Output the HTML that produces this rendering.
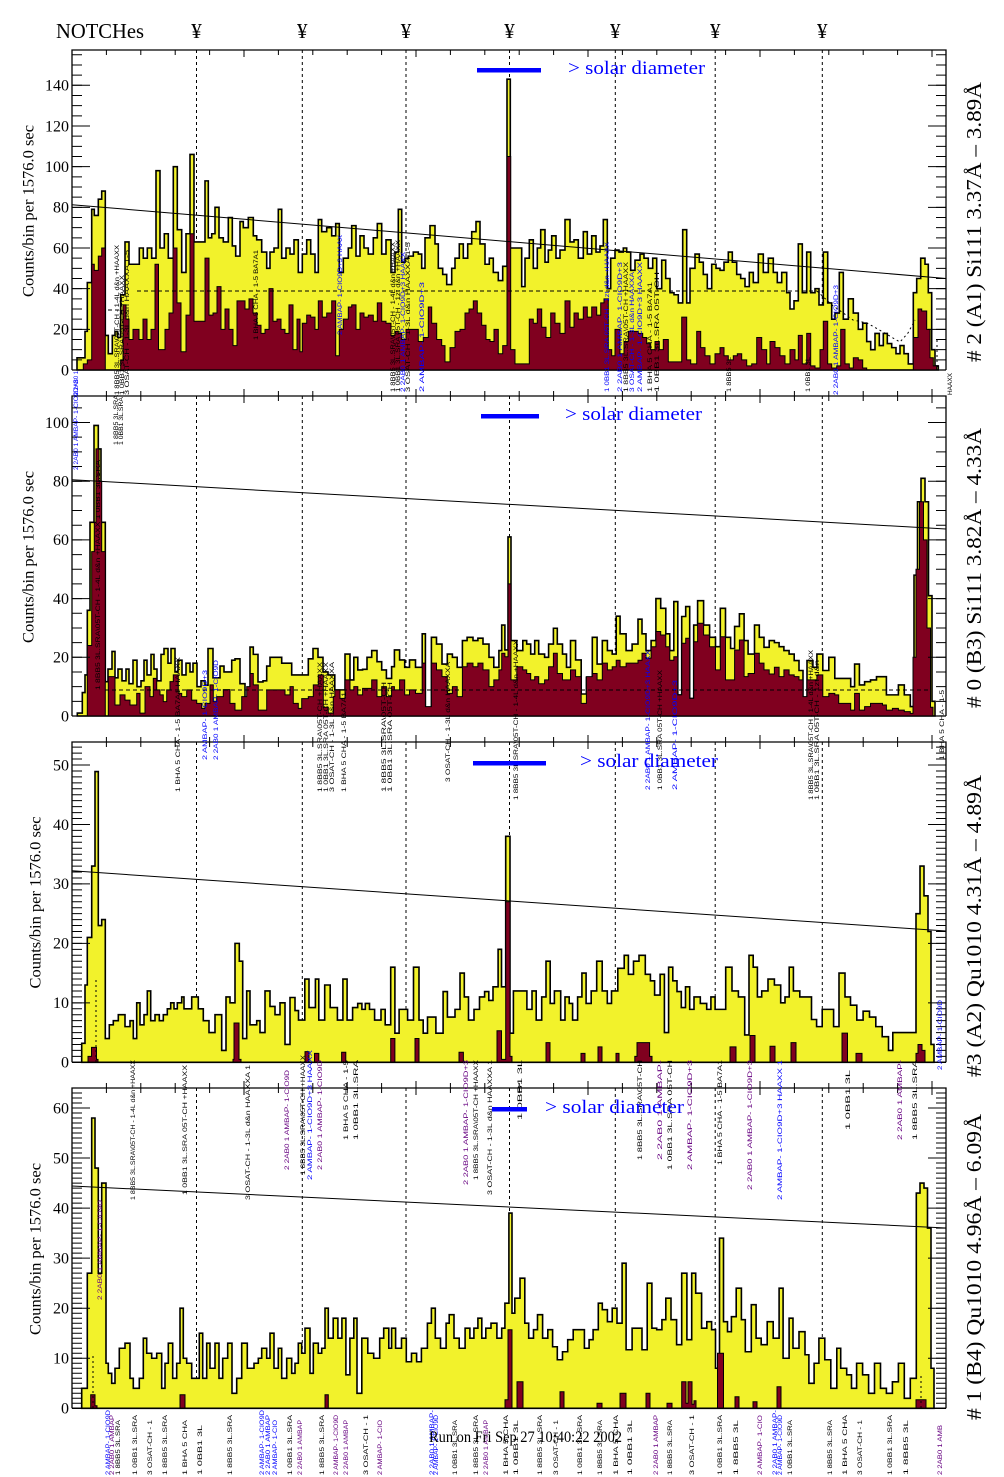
<!DOCTYPE html>
<html><head><meta charset="utf-8"><style>
html,body{margin:0;padding:0;background:#fff}
svg{display:block}
.y{fill:#f2f22b;stroke:#000;stroke-width:1.6;vector-effect:non-scaling-stroke;stroke-linejoin:miter}
.r{fill:#80001f;stroke:#000;stroke-width:1;vector-effect:non-scaling-stroke}
.ax{fill:none;stroke:#000;stroke-width:1.3}
.tk{stroke:#000;fill:none}
.nd{stroke:#000;stroke-width:1;stroke-dasharray:3 3;fill:none}
.sl{stroke:#000;stroke-width:1;fill:none}
.lab{font-family:"Liberation Serif",serif;font-size:16px;fill:#000}
.ttl{font-family:"Liberation Serif",serif;font-size:21px;fill:#000}
.sd{font-family:"Liberation Serif",serif;font-size:19px;fill:#0000ff}
.a,.b,.p{font-family:"Liberation Sans",sans-serif;font-size:6px}
.a{fill:#000}.b{fill:#0000ff}.p{fill:#660080}
</style></head><body>
<svg width="1004" height="1477" viewBox="0 0 1004 1477" xmlns="http://www.w3.org/2000/svg">
<rect width="1004" height="1477" fill="#fff"/>

<!-- header -->
<text class="ttl" x="56" y="38" font-size="20" textLength="88" lengthAdjust="spacingAndGlyphs">NOTCHes</text>
<g class="ttl" text-anchor="middle" font-size="20">
<text x="196.5" y="38">¥</text><text x="302.3" y="38">¥</text><text x="406" y="38">¥</text><text x="509.5" y="38">¥</text><text x="615.3" y="38">¥</text><text x="715.2" y="38">¥</text><text x="822.3" y="38">¥</text>
</g>

<!-- notch dashed lines -->
<g class="nd">
<path d="M196.5,50V370M302.3,50V370M406,50V370M509.5,50V370M615.3,50V370M715.2,50V370M822.3,50V370"/>
<path d="M196.5,396V716M302.3,396V716M406,396V716M509.5,396V716M615.3,396V716M715.2,396V716M822.3,396V716"/>
<path d="M196.5,742V1062M302.3,742V1062M406,742V1062M509.5,742V1062M615.3,742V1062M715.2,742V1062M822.3,742V1062"/>
<path d="M196.5,1088V1408M302.3,1088V1408M406,1088V1408M509.5,1088V1408M615.3,1088V1408M715.2,1088V1408M822.3,1088V1408"/>
</g>

<!-- PANEL 1 -->
<g transform="translate(0,370) scale(1,-2.0335)">
<path class="y" vector-effect="non-scaling-stroke" d="M77,0V6H85V19H87.3V43H91.7V79H94.3V76H98.3V84H101.7V88H105.3V17H108.3V8H112.3V17H115V19H117.7V16H120.7V37H125V63H129V52H139.3V60H143.3V55H147.3V60H151.7V55H156V98H160V60H164.3V67H168.3V55H173.3V100H177.3V69H181.7V48H186V67H190V106H194V63H205V93H208.3V65H211.7V67H215V80H219V65H223.3V63H228.3V75H232.3V61H235.7V56H240V73H243.3V70H248.3V75H253.3V66H256.7V64H261.7V58H266.7V50H270V58H274V60H278.3V79H281.7V55H286V60H290V57H294V64H298.3V48H302.3V57H306.7V64H310.7V57H315V48H318.3V74H321.7V68H326.7V70H331.7V66H335.7V72H339.3V48H343.3V55H348.3V60H351.7V71H356V56H360V66H364V60H368.3V57H373.3V65H377.3V72H381.7V57H386V64H391V48H395V58H398.3V79H401.7V53H405V55H408.3V56H413.3V58H418.3V57H421.7V50H425V65H430V71H435V62H438.3V50H442.7V47H446.7V42H451.7V50H455V55H459.3V62H463.3V55H467.7V62H471.7V68H476V73H480V62H485V52H489.3V55H493.3V48H498.3V44H502.7V51H507V143H510.3V60H521.7V41H525V55H529.3V64H533.3V50H537.3V60H540.7V69H545V53H548.3V59H551.7V66H556V55H560V59H565V74H570V63H574V64H578.3V55H583.3V68H587.3V57H591.7V66H596V58H600V61H603.3V74H607.3V40H610.7V55H615V59H619V58H623.3V60H626.7V58H630.7V49H635V54H640V57H644V55H648.3V50H652.7V55H656.7V40H661.7V54H665.7V45H670V38H674V37H678.3V33H682.7V69H686.7V33H690V50H695V57H699.3V53H703.3V47H707.3V40H711.7V52H716V50H720V49H724V53H728.3V58H732.3V53H736.7V47H740.7V45H745V41H749.3V48H753.3V43H758.3V57H763.3V48H768.3V55H773.3V48H777.3V43H781.7V48H786.7V38H790V30H794V34H798.3V62H802.3V38H806.7V58H810.7V38H815V40H819V32H823.3V58H827.7V33H831.7V25H835V28H839.3V48H843.3V25H848.3V35H853.3V28H858.3V20H862.7V23H866.7V14H870.7V10H875V18H879.3V12H883.3V18H887.3V13H891.7V11H896V8H900V12H904V8H908.3V3H913.3V38H916.7V45H920.7V55H925V52H928.3V38H931.7V10H935V2H938.3V0Z"/>
<path class="r" vector-effect="non-scaling-stroke" d="M83.3,0V3H87.3V5H91.7V52H94.3V49H98.3V56H101.7V60H105.3V0H120.7V5H123V32H126V25H129V15H133V20H139V15H143V25H147V15H151V20H155V52H158.5V10H165V20H169V28H173V60H177V33H181V9H186V27H190V67H194V24H205V55H209V27H213V28H217V41H221V20H225V30H229V20H233V12H237V34H245V30H249V35H253V28H257V22H261V18H265V20H269V40H273V24H277V25H281V20H285V18H289V32H293V10H297V25H300V9H302.3V23H306.7V27H310.7V26H315V20H318.3V34H322.3V26H326.7V28H331.7V34H335.7V7H339.3V20H343.3V25H348.3V31H351.7V32H356V20H360V28H364V26H368.3V27H373.3V24H377.3V33H381.7V24H386V23H391V17H395V19H398.3V18H401.7V15H406V20H418.3V14H423.3V16H428.3V31H431.7V23H436.7V15H441.7V12H445V4H450V11H455V19H460V20H465V28H469V30H473.3V34H477.3V28H481.7V22H486V15H490V14H494V20H498.3V8H502.7V12H507V105H510.7V10H515V3H529.3V25H533.3V23H537.3V30H541.7V21H546V16H550.7V28H555V23H560V18H565V34H570V21H574V28H578.3V25H583.3V31H587.3V26H591.7V31H596.7V27H600.7V33H604V35H608.3V10H611.7V7H615V20H620V8H624V14H628.3V19H638.3V18H642.7V16H646.7V13H650.7V10H655V14H659.3V10H663.3V15H668.3V4H681.7V26H686.7V5H690.7V3H696.7V19H700.7V11H705V7H710V3H715V8H720V11H724V7H728.3V5H733.3V7H737.3V8H741.7V5H746.7V2H751.7V3H756.7V16H761.7V10H766.7V3H770V14H775V11H780V7H785V3H790V10H795V5H798.3V17H802.3V3H806.7V18H810.7V2H815V1H820V10H823.3V24H827.7V3H831.7V1H836.7V2H840.7V20H845V3H849.3V1H853.3V6H858.3V5H862.7V1H866.7V0H913.3V16H918V30H921.7V29H926.7V20H930V6H933.3V2H936.7V0Z"/>
</g>

<!-- PANEL 2 -->
<g transform="translate(0,716) scale(1,-2.935)">
<path class="y" vector-effect="non-scaling-stroke" d="M77.3,0V1H82.3V8H85V14H87.3V36H90V66H94V99H98.3V91H101V66H105.3V11.7H108V16H112V22H115V13H118V16H122V12H126V16H129V11H133V19H137V10H141V12H144V19H147V14H151V21H154V16H157V12H161V21H164V23H168V18H171V23H175V15H178V19H182V14H186V18H190V15H193V18H197V10H201V12H205V10.5H208V23H213V13H220V17H224V15H231.7V19H235V19.5H240V11H245V5H250V23.5H253.3V21H258V11.6H263V12H266.7V17H270V20H281.7V18H291.7V14H301.7V14H308.3V19.5H313V23H318V20H323V15H328V14H334.8V8.9H345V21.1H350V12.3H353.8V20H357.8V15.7H362.6V15.9H367V20H371.7V22.3H377V18.5H381.7V15.7H386.4V12.8H391.6V16.8H394.4V22.5H399.6V19.1H404.7V16.6H409.5V19.1H415.5V16.6H422.2V28H425.4V3H431.4V26.8H436.5V24.5H442V17.7H447.3V21.1H452.4V20H457.2V16.6H462.4V25.7H467.1V26.8H473V25.7H477.9V26.5H483V24.5H489V20H493.8V16.6H498.9V22.3H501.7V31H504.9V22.5H508V61H511V25.7H516.8V22.3H522.8V25.7H526.7V24.5H530.7V21.1H534.7V25.7H538.7V21.1H544.6V20H548.6V24.5H553.4V29.9H557.3V24.5H562.5V21.1H566.5V16.6H570.5V25.7H575.6V19.1H581.2V7.5H586.4V13.2H592.3V26.8H597.1V17.7H602.3V25.7H607.4V22.3H612.2V21.1H616.2V34H620.1V28H626.1V22.3H632.1V24.5H638V33H642V28H646V22.3H651.1V25.7H655.9V40H660.7V36.7H665.8V28H669.8V22.3H673.8V39H677.8V7.2H681.7V33.9H685.7V37.3H689.7V6H693.7V31H697.6V39.3H703.6V31H709.6V26.8H715.5V23.6H720.3V36.7H725.5V26.8H730.6V23H734.6V30.5H739.4V34.8H744.1V25.7H748.1V21.1H754.5V31H759.3V26.8H764V23.4H769.2V25.7H774.4V25H779.1V23.6H783.9V22.3H789.1V21.1H794.2V18.9H799V15.5H803V6.4H807V18.9H812.9V16.6H816.9V21.1H822.8V15.5H828.8V20H834.8V12.8H850.7V10H854.6V17.7H859.4V10.6H864.6V11.7H870.5V12.3H876.5V13.4H886.4V7.2H898.4V10.6H904.3V7.2H910.3V3.2H914V48H917.5V73H921V81H925V73H928.5V41H932V5H935V0Z"/>
<path class="r" vector-effect="non-scaling-stroke" d="M85,0H87.3V24H91.7V56H94.3V66H96V91H99V80H101.7V56H105.3V0H108.3V13.4H115V3.75H120V7.2H125V5.4H130V3.75H136.7V7.7H140V1H145V10H150V6.6H153.3V12.8H156.7V8.9H160V7.2H163.3V4.9H166.7V8.9H170V11.7H173.3V14H178.3V7.7H181.7V6.6H186.7V8.9H191.7V5.4H196.7V4.3H201.7V2.6H205V4.3H210V10.6H213.3V4.9H216.7V6.6H223.3V9H230V4.3H235V2H241.7V6.6H246.7V10H250V14.5H253.3V10.6H258.3V2H266.7V8.9H285V7.2H290V10H293.3V4.3H298.3V2.6H301.7V5.9H308.3V6.6H313.3V10.6H318.3V14H323.3V3H328.3V1H333.3V6.6H334.8V8.9H340V6H345V12.3H350V8.9H353.8V10H357.8V7.2H362.6V9.4H371.7V12.3H377V6.6H381.7V10H386.4V6.6H391.6V10H394.4V8.9H399.6V12.3H404.7V7.2H409.5V8.9H415.5V7.7H422.2V18H425.4V3.2H431.4V18H436.5V15.7H442V13.4H447.3V7.7H452.4V10H457.2V6.6H462.4V16.8H467.1V18H473V16.8H477.9V18H483V15.7H489V10H493.8V12.3H498.9V15.7H501.7V21.4H504.9V20.2H508V45H511V12.3H516.8V16.8H522.8V15.7H526.7V14.5H530.7V12.3H534.7V13.4H538.7V11H544.6V12.3H548.6V16.8H553.4V21.4H557.3V14.5H562.5V12.3H570.5V15.7H575.6V13.4H581.2V4.3H586.4V13.4H592.3V14.5H597.1V12.3H602.3V18H607.4V15.7H612.2V16.8H616.2V19H620.1V16.8H626.1V18H638V19H642V21.4H646V19.7H651.1V23.6H655.9V28.8H660.7V27.6H665.8V23.6H669.8V19H673.8V20.2H677.8V7.2H681.7V24.8H685.7V26.5H689.7V6H693.7V25.3H697.6V31.6H703.6V27.6H709.6V23.6H715.5V15.7H720.3V27H725.5V12.3H734.6V22.5H739.4V25.9H744.1V13.4H748.1V14.5H754.5V21.4H759.3V18H764V15.7H769.2V14.3H774.4V16.6H779.1V13.4H783.9V15.7H789.1V14H794.2V13.4H799V12.3H803V6.6H807V12.3H816.9V14H822.8V6.6H828.8V7.7H834.8V7.2H838.7V4.3H850.7V2H854.6V7.7H859.4V2H864.6V3.2H870.5V4.3H882.5V3.75H886.4V2H892.4V2.6H898.4V2H904.3V1.5H910.3V0.9H913V20H916V50H919.5V73H923.5V60H927V30H930.5V3H933V0Z"/>
</g>

<!-- PANEL 3 -->
<g transform="translate(0,1062.3) scale(1,-5.946)">
<path class="y" vector-effect="non-scaling-stroke" d="M81.7,0V3.2H85V13H87.3V21H91.7V33H95V48.9H98.3V23H101.7V24H105.3V4H109.3V6.3H113.3V7H118.3V8H125V6H130V7H133.3V4H136.7V10H140V6.3H144V8H147.3V12H150.7V7H155V8H159.3V7H163.3V8H167.3V9H170.7V10H174V9H177.3V10H181.7V11H184V9H191.7V11H198.3V9H203.3V7H209V5H215V8H221.7V2H226V11H230V10H235V20H239.3V17H242.7V4H246.7V12H250V6.3H256.7V7H260V5H265V12H270V9.4H275V8H280V10H285V3H290V10.9H295V8.7H298.5V7.1H304.8V14H309V9.2H315.4V14H318.8V7.1H324.7V13H330.2V9.2H337.4V7.1H342.9V14H347.1V7.1H352.6V9.2H357.7V9.9H361.9V8.9H365.3V9.9H369.5V8.9H374.6V7.1H381V8.9H385.2V6.3H390.7V16H394.9V4.9H399.1V8.9H407.6V7.1H413.5V16H419V7.1H423.2V4.9H427.5V7.6H435.9V4.9H443.1V11.9H447.4V7.6H455V8.9H460V15H464.3V11H468.5V7.1H474V8.9H479.5V11H484.6V11.9H488.8V10.4H493V12.7H498.1V19H501.5V12.7H505.7V38H510V4.9H513.4V12H526.9V8.9H532V12H536.2V7.1H541.7V11H546V17H550.2V9.9H554.4V12H560.7V7.1H565V11H569.2V9.9H572.6V7.1H577.6V11H581.9V15H586.1V9.9H591.2V12H596.7V17H602.2V12H607.3V9.9H611.5V12H617.8V15.8H624.2V18H628.4V14.8H633.5V17H639V18H645.3V14.8H650.4V13.7H654.6V11.3H660.1V14.8H664.4V5H668.6V16H672.8V13.7H677V11.9H681.3V9.2H685.5V12.7H689.7V8.9H694V11H700.3V9.9H706.7V8.9H710.9V11H715.1V8.9H725.7V16H732V12H738.4V11H744.7V4.6H749V18H753.2V16H757.4V11H761.7V12H768V14H774.4V13H780.7V10H785V11H789.2V16H793.4V12H799.8V11H811.5V7.2H816.6V6H822.2V8.9H833.6V6H839V15H845V11H850.5V9.6H856.8V7.1H863.1V8.6H869.5V7.6H875.8V6H882.2V4.3H888.5V2H892.8V5H916V25H920V33H924V28H928V22H931V3H934V0Z"/>
<path class="r" vector-effect="non-scaling-stroke" d="M88,0V1H91.5V2.5H96.5V0.5H98V0H233V0.5H234V6.6H239V0.5H241V0H305V1.8H309V0H314.5V1.5H318.8V0H341.6V1.7H345.8V0H390.7V4H394.9V0H415V4H419V0H459V1.7H463.4V0H497V5.3H501.5V0.5H505.7V27H510V1H512V0H546V3.3H550V0H581V1.5H585V0H598V2.6H602V0H616V1.5H619V0H634.8V1H637V3.3H645V3.3H649.6V1H652V0H730V2.6H736V0H750V4.5H755V0H770V2.7H775V0H791V3.3H796V0H842V4.9H847.5V0H856V1.5H862V0H916V1.5H918V3H922V2H925V0Z"/>
</g>

<!-- PANEL 4 -->
<g transform="translate(0,1408.3) scale(1,-5.005)">
<path class="y" vector-effect="non-scaling-stroke" d="M81.7,0V4H87.3V27H91.7V58H95V48H98.3V27H101.7V45H106V9H108.3V7H111.7V5H115V8H119.3V12H125V13H130V6H133.3V4H139.3V6H143.3V14H146.7V11H151.7V10H156.7V11H161.7V4H165V9H168.3V13H172.7V6H176.7V9H180V20H183.3V10H186.7V9H191.7V6H199.3V15H202.7V6H206.7V13H210V8H215V13H219V6H222.7V10H227.7V13H232V3H236.7V6H241.7V13H247.3V8H254V9H258.3V10H261.7V12H266.7V10H270V15H274V8H278.3V12H281.7V6H286.7V10H291.7V7H295V9H298.3V13H301.7V11H305V16H310V7H313.3V13H318.3V11H321.7V12H325V20H328.3V14H333.2V18H337.9V14H341.9V18H345.9V6.7H349.9V14H353.8V18H357V3H361.8V14H367.8V11H373.7V10H379.7V14H383.7V16H388.8V12H391.6V16H395.6V12H401.5V14H406.3V9.3H411.5V11H416.6V9.3H421.4V12H427.4V17H431.4V20H435.3V14H440.5V12H446.1V17H449.2V18.7H454V14H459.2V12H465.1V16H469.9V14H473.9V16H477.9V18H481.8V14H485.8V16H491V17H496.9V14H501.7V16H504.9V21H508.9V39H512V19H514.8V22H520V26H524.8V17H528.7V14H533.5V15.7H537.5V18.7H542.6V14H547.8V15.7H552.6V12.3H557.3V9.7H562.5V11.3H567.7V13.7H573.2V15.7H584.4V12H589.1V13.7H593.1V15.7H598.3V21H602.3V19.7H607.4V17.3H612.2V20H617V17H622.1V29H626.1V11.7H632.1V16H642V11.7H647.2V25H651.9V16H656.7V15.7H661.9V17.7H665.8V22H671V17.7H676.6V12.7H681.7V27H686.9V13.7H691.7V27H695.7V23H701.6V16H706.8V17.3H711.6V15.7H715.5V8H719.5V34H723.5V17.3H727.5V15.3H731.4V18.3H736.2V24H741.4V17.7H745.3V11.3H751.3V20.7H756.1V14H761.2V12.7H767.2V17.3H773.2V14H779.1V24H783.1V10H789.1V18H793V12H799V15.3H805V10.7H808.9V5H814.1V9H818.9V14H824.8V9.7H830.8V4H836.8V12H840.7V8H846.7V6.7H851.5V4H856.6V9H862.6V6.7H868.6V3H874.5V9H880.5V4H886.4V3H892.4V5.3H898.4V9H904.3V2H910.3V6H916.3V43H920V45H924V44H927.5V36H931V8H934V0Z"/>
<path class="r" vector-effect="non-scaling-stroke" d="M88,0H90.7V2.7H95V0.5H97V0H180V2.7H185V0H325V2.7H328.3V0H505V1.7H508V15.7H512V0H517V5.3H523V0H560V3.3H564V0H597V1H602V0H620V3H626V0H646V3H650V0H667V1H672V0H681.7V5.3H686V1H688V5.3H692V0.8H694V1.5H696V0H717.5V11H723.5V0H735V2.3H739V0H753V1.3H757V0H777V4.3H781V0H916V1.7H926V0Z"/>
</g>

<!-- frames -->
<g class="ax">
<path d="M72,370V50H946V370M72,370H946"/>
<path d="M72,716V396H946V716M72,716H946"/>
<path d="M72,1062.3V742H946V1062.3M72,1062.3H946"/>
<path d="M72,1408.3V1088H946V1408.3M72,1408.3H946"/>
</g>

<!-- ticks -->
<g class="tk">
<!-- x ticks top -->
<path stroke-width="5" stroke-dasharray="1 33.4" d="M105.9,52.5H946M105.9,398.5H946M105.9,744.5H946M105.9,1090.5H946"/>
<path stroke-width="7" stroke-dasharray="1 171" d="M243.5,53.5H946M243.5,399.5H946M243.5,745.5H946M243.5,1091.5H946"/>
<!-- x ticks bottom (pointing up) -->
<path stroke-width="5" stroke-dasharray="1 33.4" d="M105.9,393.5H946M105.9,739.5H946M105.9,1085.5H946"/>
<path stroke-width="7" stroke-dasharray="1 171" d="M243.5,392.5H946M243.5,738.5H946M243.5,1084.5H946"/>
<!-- panel 1 y ticks -->
<path stroke-width="10" stroke-dasharray="1 9.1675" d="M77,370.5V51M941,370.5V51"/>
<path stroke-width="18" stroke-dasharray="1 39.67" d="M81,370.5V51M937,370.5V51"/>
<!-- panel 2 -->
<path stroke-width="10" stroke-dasharray="1 13.675" d="M77,716.5V397M941,716.5V397"/>
<path stroke-width="18" stroke-dasharray="1 57.7" d="M81,716.5V397M937,716.5V397"/>
<!-- panel 3 -->
<path stroke-width="10" stroke-dasharray="1 4.946" d="M77,1062.8V743M941,1062.8V743"/>
<path stroke-width="18" stroke-dasharray="1 58.46" d="M81,1062.8V743M937,1062.8V743"/>
<!-- panel 4 -->
<path stroke-width="10" stroke-dasharray="1 4.005" d="M77,1408.8V1089M941,1408.8V1089"/>
<path stroke-width="18" stroke-dasharray="1 49.05" d="M81,1408.8V1089M937,1408.8V1089"/>
</g>

<!-- sloping lines & dashed -->
<g class="sl">
<path d="M72,204.7L946,278.5"/>
<path d="M72,479.7L946,529"/>
<path d="M72,870.8L946,931"/>
<path d="M72,1186L946,1228"/>
<path stroke-dasharray="4 3" d="M137,291H817M108,310H121M105,690H930"/>
<path stroke-dasharray="2 3" d="M817,291L832,305L853,320L867,323L883,332L893,338L900,342L908,333L915,320M937,340V370M96,1062V978M93,1408V1355M921,1408V1375"/>
</g>

<!-- tick labels -->
<g class="lab" text-anchor="end">
<text x="69" y="375.3">0</text><text x="69" y="334.6">20</text><text x="69" y="294">40</text><text x="69" y="253.3">60</text><text x="69" y="212.6">80</text><text x="69" y="172">100</text><text x="69" y="131.3">120</text><text x="69" y="90.6">140</text>
<text x="69" y="721.3">0</text><text x="69" y="662.6">20</text><text x="69" y="603.9">40</text><text x="69" y="545.2">60</text><text x="69" y="486.5">80</text><text x="69" y="427.8">100</text>
<text x="69" y="1067.6">0</text><text x="69" y="1008.1">10</text><text x="69" y="948.7">20</text><text x="69" y="889.2">30</text><text x="69" y="829.8">40</text><text x="69" y="770.3">50</text>
<text x="69" y="1413.6">0</text><text x="69" y="1363.6">10</text><text x="69" y="1313.5">20</text><text x="69" y="1263.5">30</text><text x="69" y="1213.4">40</text><text x="69" y="1163.4">50</text><text x="69" y="1113.3">60</text>
</g>

<!-- y axis titles -->
<g class="lab" text-anchor="middle">
<text transform="translate(33.5,211) rotate(-90)" textLength="172" lengthAdjust="spacingAndGlyphs">Counts/bin per   1576.0 sec</text>
<text transform="translate(33.5,557) rotate(-90)" textLength="172" lengthAdjust="spacingAndGlyphs">Counts/bin per   1576.0 sec</text>
<text transform="translate(40.5,902.5) rotate(-90)" textLength="172" lengthAdjust="spacingAndGlyphs">Counts/bin per   1576.0 sec</text>
<text transform="translate(40.5,1249) rotate(-90)" textLength="172" lengthAdjust="spacingAndGlyphs">Counts/bin per   1576.0 sec</text>
</g>

<!-- right titles -->
<g class="ttl" text-anchor="middle">
<text transform="translate(981,222) rotate(-90)" textLength="280" lengthAdjust="spacingAndGlyphs"># 2 (A1) Si111  3.37Å – 3.89Å</text>
<text transform="translate(981,568) rotate(-90)" textLength="280" lengthAdjust="spacingAndGlyphs"># 0 (B3) Si111  3.82Å – 4.33Å</text>
<text transform="translate(981,926) rotate(-90)" textLength="302" lengthAdjust="spacingAndGlyphs">#3 (A2) Qu1010  4.31Å – 4.89Å</text>
<text transform="translate(981,1267) rotate(-90)" textLength="306" lengthAdjust="spacingAndGlyphs"># 1 (B4) Qu1010 4.96Å – 6.09Å</text>
</g>

<!-- annotations -->
<g>
<text class="b" transform="translate(78,395) rotate(-90)" textLength="24" lengthAdjust="spacingAndGlyphs">2 2AB0 1</text>
<text class="a" transform="translate(119,395) rotate(-90)" textLength="150" lengthAdjust="spacingAndGlyphs">1 8BB5 3L.SRA\05T-CH - 1-4L d&amp;n +HAAXX</text>
<text class="a" transform="translate(124,395) rotate(-90)" textLength="120" lengthAdjust="spacingAndGlyphs">1 0BB1 3L.SRA 05T-CH +HAAXX</text>
<text class="a" transform="translate(129,395) rotate(-90)" textLength="145" lengthAdjust="spacingAndGlyphs">3 OSAT-CH - 1-3L d&amp;n HAAXXA 1-5</text>
<text class="a" transform="translate(258,340) rotate(-90)" textLength="90" lengthAdjust="spacingAndGlyphs">1 BHA 5 CHA - 1-5 BA7A1</text>
<text class="b" transform="translate(342,335) rotate(-90)" textLength="100" lengthAdjust="spacingAndGlyphs">2 AMBAP- 1-CIO9D+3 HAAX</text>
<text class="a" transform="translate(395,392) rotate(-90)" textLength="150" lengthAdjust="spacingAndGlyphs">1 8BB5 3L.SRA\05T-CH - 1-4L d&amp;n +HAAXX</text>
<text class="a" transform="translate(400,392) rotate(-90)" textLength="152" lengthAdjust="spacingAndGlyphs">1 0BB1 3L.SRA 05T-CH - 1zt d&amp;n +HAAXX</text>
<text class="b" transform="translate(405,392) rotate(-90)" textLength="140" lengthAdjust="spacingAndGlyphs">2 2AB0 1 AMBAP- 1-CIO9D+3 HAAXX</text>
<text class="a" transform="translate(410,392) rotate(-90)" textLength="150" lengthAdjust="spacingAndGlyphs">3 OSAT-CH - 1-3L d&amp;n HAAXXA 1-5</text>
<text class="b" transform="translate(424,392) rotate(-90)" textLength="110" lengthAdjust="spacingAndGlyphs">2 AMBAP- 1-CIO9D+3</text>
<text class="b" transform="translate(609,392) rotate(-90)" textLength="150" lengthAdjust="spacingAndGlyphs">1 0BB1 3L.SRA 05T-CH - 1zt d&amp;n +HAAXX</text>
<text class="b" transform="translate(622,392) rotate(-90)" textLength="130" lengthAdjust="spacingAndGlyphs">2 2AB0 1 AMBAP- 1-CIO9D+3</text>
<text class="a" transform="translate(628,392) rotate(-90)" textLength="130" lengthAdjust="spacingAndGlyphs">1 8BB5 3L.SRA\05T-CH +HAAXX</text>
<text class="b" transform="translate(634,392) rotate(-90)" textLength="120" lengthAdjust="spacingAndGlyphs">3 OSAT-CH - 1-3L d&amp;n HAAXXA</text>
<text class="b" transform="translate(642,392) rotate(-90)" textLength="130" lengthAdjust="spacingAndGlyphs">2 AMBAP- 1-CIO9D+3 HAAXX</text>
<text class="a" transform="translate(652,392) rotate(-90)" textLength="110" lengthAdjust="spacingAndGlyphs">1 BHA 5 CHA - 1-5 BA7A1</text>
<text class="a" transform="translate(659,392) rotate(-90)" textLength="120" lengthAdjust="spacingAndGlyphs">1 0BB1 3L.SRA 05T-CH</text>
<text class="a" transform="translate(731,392) rotate(-90)" textLength="35" lengthAdjust="spacingAndGlyphs">1 8BB5 3L</text>
<text class="a" transform="translate(810,392) rotate(-90)" textLength="35" lengthAdjust="spacingAndGlyphs">1 0BB1 3L</text>
<text class="b" transform="translate(838,395) rotate(-90)" textLength="110" lengthAdjust="spacingAndGlyphs">2 2AB0 1 AMBAP- 1-CIO9D+3</text>
<text class="a" transform="translate(952,395) rotate(-90)" textLength="22" lengthAdjust="spacingAndGlyphs">HAAXX</text>

<text class="b" transform="translate(78,470) rotate(-90)" textLength="90" lengthAdjust="spacingAndGlyphs">2 2AB0 1 AMBAP- 1-CIO9D+3</text>
<text class="a" transform="translate(118,445) rotate(-90)" textLength="50" lengthAdjust="spacingAndGlyphs">1 8BB5 3L.SRA</text>
<text class="a" transform="translate(123,445) rotate(-90)" textLength="48" lengthAdjust="spacingAndGlyphs">1 0BB1 3L.SRA</text>
<text class="a" transform="translate(100,690) rotate(-90)" textLength="230" lengthAdjust="spacingAndGlyphs">1 8BB5 3L.SRA\05T-CH - 1-4L d&amp;n +HAAXX 1 0BB1 3L.SRA</text>
<text class="a" transform="translate(180,792) rotate(-90)" textLength="135" lengthAdjust="spacingAndGlyphs">1 BHA 5 CHA - 1-5 BA7A1 HAAXX</text>
<text class="b" transform="translate(207,760) rotate(-90)" textLength="90" lengthAdjust="spacingAndGlyphs">2 AMBAP- 1-CIO9D+3</text>
<text class="b" transform="translate(218,760) rotate(-90)" textLength="100" lengthAdjust="spacingAndGlyphs">2 2AB0 1 AMBAP- 1-CIO9D</text>
<text class="a" transform="translate(322,792) rotate(-90)" textLength="130" lengthAdjust="spacingAndGlyphs">1 8BB5 3L.SRA\05T-CH +HAAXX</text>
<text class="a" transform="translate(328,792) rotate(-90)" textLength="130" lengthAdjust="spacingAndGlyphs">1 0BB1 3L.SRA 05T-CH +HAAXX</text>
<text class="a" transform="translate(334,792) rotate(-90)" textLength="130" lengthAdjust="spacingAndGlyphs">3 OSAT-CH - 1-3L d&amp;n HAAXXA</text>
<text class="a" transform="translate(346,792) rotate(-90)" textLength="100" lengthAdjust="spacingAndGlyphs">1 BHA 5 CHA - 1-5 BA7A1</text>
<text class="a" transform="translate(386,792) rotate(-90)" textLength="110" lengthAdjust="spacingAndGlyphs">1 8BB5 3L.SRA\05T-CH</text>
<text class="a" transform="translate(392,792) rotate(-90)" textLength="110" lengthAdjust="spacingAndGlyphs">1 0BB1 3L.SRA 05T-CH</text>
<text class="a" transform="translate(450,782) rotate(-90)" textLength="120" lengthAdjust="spacingAndGlyphs">3 OSAT-CH - 1-3L d&amp;n HAAXXA</text>
<text class="a" transform="translate(518,800) rotate(-90)" textLength="160" lengthAdjust="spacingAndGlyphs">1 8BB5 3L.SRA\05T-CH - 1-4L d&amp;n +HAAXX</text>
<text class="b" transform="translate(650,790) rotate(-90)" textLength="140" lengthAdjust="spacingAndGlyphs">2 2AB0 1 AMBAP- 1-CIO9D+3 HAAXX</text>
<text class="a" transform="translate(662,790) rotate(-90)" textLength="120" lengthAdjust="spacingAndGlyphs">1 0BB1 3L.SRA 05T-CH +HAAXX</text>
<text class="b" transform="translate(677,790) rotate(-90)" textLength="110" lengthAdjust="spacingAndGlyphs">2 AMBAP- 1-CIO9D+3</text>
<text class="a" transform="translate(813,800) rotate(-90)" textLength="150" lengthAdjust="spacingAndGlyphs">1 8BB5 3L.SRA\05T-CH - 1-4L d&amp;n +HAAXX</text>
<text class="a" transform="translate(819,800) rotate(-90)" textLength="140" lengthAdjust="spacingAndGlyphs">1 0BB1 3L.SRA 05T-CH - 1zt d&amp;n</text>
<text class="a" transform="translate(944,760) rotate(-90)" textLength="70" lengthAdjust="spacingAndGlyphs">1 BHA 5 CHA - 1-5</text>

<text class="a" transform="translate(135,1200) rotate(-90)" textLength="140" lengthAdjust="spacingAndGlyphs">1 8BB5 3L.SRA\05T-CH - 1-4L d&amp;n +HAAXX</text>
<text class="a" transform="translate(187,1195) rotate(-90)" textLength="130" lengthAdjust="spacingAndGlyphs">1 0BB1 3L.SRA 05T-CH +HAAXX</text>
<text class="a" transform="translate(250,1200) rotate(-90)" textLength="135" lengthAdjust="spacingAndGlyphs">3 OSAT-CH - 1-3L d&amp;n HAAXXA 1</text>
<text class="p" transform="translate(289,1170) rotate(-90)" textLength="100" lengthAdjust="spacingAndGlyphs">2 2AB0 1 AMBAP- 1-CIO9D</text>
<text class="a" transform="translate(305,1175) rotate(-90)" textLength="120" lengthAdjust="spacingAndGlyphs">1 8BB5 3L.SRA\05T-CH +HAAXX</text>
<text class="b" transform="translate(312,1180) rotate(-90)" textLength="130" lengthAdjust="spacingAndGlyphs">2 AMBAP- 1-CIO9D+3 HAAXX</text>
<text class="p" transform="translate(322,1170) rotate(-90)" textLength="110" lengthAdjust="spacingAndGlyphs">2 2AB0 1 AMBAP- 1-CIO9D</text>
<text class="a" transform="translate(348,1140) rotate(-90)" textLength="80" lengthAdjust="spacingAndGlyphs">1 BHA 5 CHA - 1-5</text>
<text class="a" transform="translate(358,1140) rotate(-90)" textLength="80" lengthAdjust="spacingAndGlyphs">1 0BB1 3L.SRA</text>
<text class="p" transform="translate(468,1185) rotate(-90)" textLength="125" lengthAdjust="spacingAndGlyphs">2 2AB0 1 AMBAP- 1-CIO9D+3</text>
<text class="a" transform="translate(478,1180) rotate(-90)" textLength="120" lengthAdjust="spacingAndGlyphs">1 8BB5 3L.SRA\05T-CH +HAAXX</text>
<text class="a" transform="translate(492,1195) rotate(-90)" textLength="135" lengthAdjust="spacingAndGlyphs">3 OSAT-CH - 1-3L d&amp;n HAAXXA 1</text>
<text class="a" transform="translate(522,1120) rotate(-90)" textLength="60" lengthAdjust="spacingAndGlyphs">1 0BB1 3L</text>
<text class="a" transform="translate(642,1160) rotate(-90)" textLength="100" lengthAdjust="spacingAndGlyphs">1 8BB5 3L.SRA\05T-CH</text>
<text class="p" transform="translate(662,1160) rotate(-90)" textLength="100" lengthAdjust="spacingAndGlyphs">2 2AB0 1 AMBAP-</text>
<text class="a" transform="translate(672,1170) rotate(-90)" textLength="110" lengthAdjust="spacingAndGlyphs">1 0BB1 3L.SRA 05T-CH</text>
<text class="p" transform="translate(692,1170) rotate(-90)" textLength="110" lengthAdjust="spacingAndGlyphs">2 AMBAP- 1-CIO9D+3</text>
<text class="a" transform="translate(722,1165) rotate(-90)" textLength="105" lengthAdjust="spacingAndGlyphs">1 BHA 5 CHA - 1-5 BA7A1</text>
<text class="p" transform="translate(752,1190) rotate(-90)" textLength="130" lengthAdjust="spacingAndGlyphs">2 2AB0 1 AMBAP- 1-CIO9D+3</text>
<text class="b" transform="translate(782,1200) rotate(-90)" textLength="140" lengthAdjust="spacingAndGlyphs">2 AMBAP- 1-CIO9D+3 HAAXX 1</text>
<text class="a" transform="translate(850,1130) rotate(-90)" textLength="60" lengthAdjust="spacingAndGlyphs">1 0BB1 3L</text>
<text class="p" transform="translate(902,1140) rotate(-90)" textLength="80" lengthAdjust="spacingAndGlyphs">2 2AB0 1 AMBAP-</text>
<text class="a" transform="translate(917,1140) rotate(-90)" textLength="80" lengthAdjust="spacingAndGlyphs">1 8BB5 3L.SRA</text>
<text class="b" transform="translate(942,1070) rotate(-90)" textLength="70" lengthAdjust="spacingAndGlyphs">2 AMBAP- 1-CIO9D</text>
<text class="p" transform="translate(102,1300) rotate(-90)" textLength="100" lengthAdjust="spacingAndGlyphs">2 2AB0 1 AMBAP- 1-CIO9D</text>

<text class="b" transform="translate(110,1475) rotate(-90)" textLength="65" lengthAdjust="spacingAndGlyphs">2 AMBAP- 1-CIO9D</text>
<text class="p" transform="translate(114,1475) rotate(-90)" textLength="60" lengthAdjust="spacingAndGlyphs">2 2AB0 1 AMBAP</text>
<text class="a" transform="translate(120,1475) rotate(-90)" textLength="55" lengthAdjust="spacingAndGlyphs">1 8BB5 3L.SRA</text>
<text class="a" transform="translate(137,1475) rotate(-90)" textLength="60" lengthAdjust="spacingAndGlyphs">1 0BB1 3L.SRA</text>
<text class="a" transform="translate(152,1475) rotate(-90)" textLength="55" lengthAdjust="spacingAndGlyphs">3 OSAT-CH - 1</text>
<text class="a" transform="translate(167,1475) rotate(-90)" textLength="60" lengthAdjust="spacingAndGlyphs">1 8BB5 3L.SRA</text>
<text class="a" transform="translate(187,1475) rotate(-90)" textLength="55" lengthAdjust="spacingAndGlyphs">1 BHA 5 CHA</text>
<text class="a" transform="translate(202,1475) rotate(-90)" textLength="50" lengthAdjust="spacingAndGlyphs">1 0BB1 3L</text>
<text class="a" transform="translate(232,1475) rotate(-90)" textLength="60" lengthAdjust="spacingAndGlyphs">1 8BB5 3L.SRA</text>
<text class="b" transform="translate(264,1475) rotate(-90)" textLength="65" lengthAdjust="spacingAndGlyphs">2 AMBAP- 1-CIO9D</text>
<text class="b" transform="translate(270,1475) rotate(-90)" textLength="60" lengthAdjust="spacingAndGlyphs">2 2AB0 1 AMBAP</text>
<text class="b" transform="translate(277,1475) rotate(-90)" textLength="55" lengthAdjust="spacingAndGlyphs">2 AMBAP- 1-CIO</text>
<text class="a" transform="translate(292,1475) rotate(-90)" textLength="60" lengthAdjust="spacingAndGlyphs">1 0BB1 3L.SRA</text>
<text class="p" transform="translate(302,1475) rotate(-90)" textLength="55" lengthAdjust="spacingAndGlyphs">2 2AB0 1 AMBAP</text>
<text class="a" transform="translate(324,1475) rotate(-90)" textLength="60" lengthAdjust="spacingAndGlyphs">1 8BB5 3L.SRA</text>
<text class="p" transform="translate(338,1475) rotate(-90)" textLength="60" lengthAdjust="spacingAndGlyphs">2 AMBAP- 1-CIO9D</text>
<text class="p" transform="translate(348,1475) rotate(-90)" textLength="55" lengthAdjust="spacingAndGlyphs">2 2AB0 1 AMBAP</text>
<text class="a" transform="translate(368,1475) rotate(-90)" textLength="60" lengthAdjust="spacingAndGlyphs">3 OSAT-CH - 1</text>
<text class="p" transform="translate(382,1475) rotate(-90)" textLength="55" lengthAdjust="spacingAndGlyphs">2 AMBAP- 1-CIO</text>
<text class="b" transform="translate(434,1475) rotate(-90)" textLength="65" lengthAdjust="spacingAndGlyphs">2 2AB0 1 AMBAP-</text>
<text class="b" transform="translate(438,1475) rotate(-90)" textLength="60" lengthAdjust="spacingAndGlyphs">2 AMBAP- 1-CIO9D</text>
<text class="a" transform="translate(457,1475) rotate(-90)" textLength="55" lengthAdjust="spacingAndGlyphs">1 0BB1 3L.SRA</text>
<text class="a" transform="translate(478,1475) rotate(-90)" textLength="60" lengthAdjust="spacingAndGlyphs">1 8BB5 3L.SRA</text>
<text class="p" transform="translate(488,1475) rotate(-90)" textLength="55" lengthAdjust="spacingAndGlyphs">2 2AB0 1 AMBAP</text>
<text class="a" transform="translate(508,1475) rotate(-90)" textLength="60" lengthAdjust="spacingAndGlyphs">1 BHA 5 CHA</text>
<text class="a" transform="translate(518,1475) rotate(-90)" textLength="55" lengthAdjust="spacingAndGlyphs">1 0BB1 3L</text>
<text class="a" transform="translate(542,1475) rotate(-90)" textLength="60" lengthAdjust="spacingAndGlyphs">1 8BB5 3L.SRA</text>
<text class="a" transform="translate(558,1475) rotate(-90)" textLength="55" lengthAdjust="spacingAndGlyphs">3 OSAT-CH - 1</text>
<text class="a" transform="translate(582,1475) rotate(-90)" textLength="60" lengthAdjust="spacingAndGlyphs">1 0BB1 3L.SRA</text>
<text class="a" transform="translate(602,1475) rotate(-90)" textLength="55" lengthAdjust="spacingAndGlyphs">1 8BB5 3L.SRA</text>
<text class="a" transform="translate(618,1475) rotate(-90)" textLength="60" lengthAdjust="spacingAndGlyphs">1 BHA 5 CHA</text>
<text class="a" transform="translate(632,1475) rotate(-90)" textLength="55" lengthAdjust="spacingAndGlyphs">1 0BB1 3L</text>
<text class="p" transform="translate(658,1475) rotate(-90)" textLength="60" lengthAdjust="spacingAndGlyphs">2 2AB0 1 AMBAP</text>
<text class="a" transform="translate(672,1475) rotate(-90)" textLength="55" lengthAdjust="spacingAndGlyphs">1 8BB5 3L.SRA</text>
<text class="a" transform="translate(694,1475) rotate(-90)" textLength="60" lengthAdjust="spacingAndGlyphs">3 OSAT-CH - 1</text>
<text class="a" transform="translate(722,1475) rotate(-90)" textLength="60" lengthAdjust="spacingAndGlyphs">1 0BB1 3L.SRA</text>
<text class="a" transform="translate(738,1475) rotate(-90)" textLength="55" lengthAdjust="spacingAndGlyphs">1 8BB5 3L</text>
<text class="p" transform="translate(762,1475) rotate(-90)" textLength="60" lengthAdjust="spacingAndGlyphs">2 AMBAP- 1-CIO</text>
<text class="b" transform="translate(777,1475) rotate(-90)" textLength="65" lengthAdjust="spacingAndGlyphs">2 2AB0 1 AMBAP-</text>
<text class="b" transform="translate(782,1475) rotate(-90)" textLength="60" lengthAdjust="spacingAndGlyphs">2 AMBAP- 1-CIO9D</text>
<text class="a" transform="translate(792,1475) rotate(-90)" textLength="55" lengthAdjust="spacingAndGlyphs">1 0BB1 3L.SRA</text>
<text class="a" transform="translate(832,1475) rotate(-90)" textLength="55" lengthAdjust="spacingAndGlyphs">1 8BB5 3L.SRA</text>
<text class="a" transform="translate(847,1475) rotate(-90)" textLength="60" lengthAdjust="spacingAndGlyphs">1 BHA 5 CHA</text>
<text class="a" transform="translate(862,1475) rotate(-90)" textLength="55" lengthAdjust="spacingAndGlyphs">3 OSAT-CH - 1</text>
<text class="a" transform="translate(892,1475) rotate(-90)" textLength="60" lengthAdjust="spacingAndGlyphs">1 0BB1 3L.SRA</text>
<text class="a" transform="translate(908,1475) rotate(-90)" textLength="55" lengthAdjust="spacingAndGlyphs">1 8BB5 3L</text>
<text class="p" transform="translate(942,1475) rotate(-90)" textLength="50" lengthAdjust="spacingAndGlyphs">2 2AB0 1 AMB</text>
</g>

<!-- solar diameter bars -->
<g fill="#0000ff">
<rect x="477" y="68" width="64" height="4.5"/>
<rect x="481" y="414" width="58" height="4.5"/>
<rect x="473" y="761" width="73" height="4.5"/>
<rect x="492" y="1107" width="35" height="4.5"/>
</g>
<g class="sd">
<text x="568" y="74" textLength="137" lengthAdjust="spacingAndGlyphs">&gt; solar diameter</text>
<text x="565" y="420" textLength="137" lengthAdjust="spacingAndGlyphs">&gt; solar diameter</text>
<text x="580" y="767" textLength="138" lengthAdjust="spacingAndGlyphs">&gt; solar diameter</text>
<text x="545" y="1113" textLength="139" lengthAdjust="spacingAndGlyphs">&gt; solar diameter</text>
</g>

<!-- footer -->
<text class="lab" x="429" y="1442" textLength="193" lengthAdjust="spacingAndGlyphs">Run on Fri Sep 27 10:40:22 2002</text>
</svg>
</body></html>
